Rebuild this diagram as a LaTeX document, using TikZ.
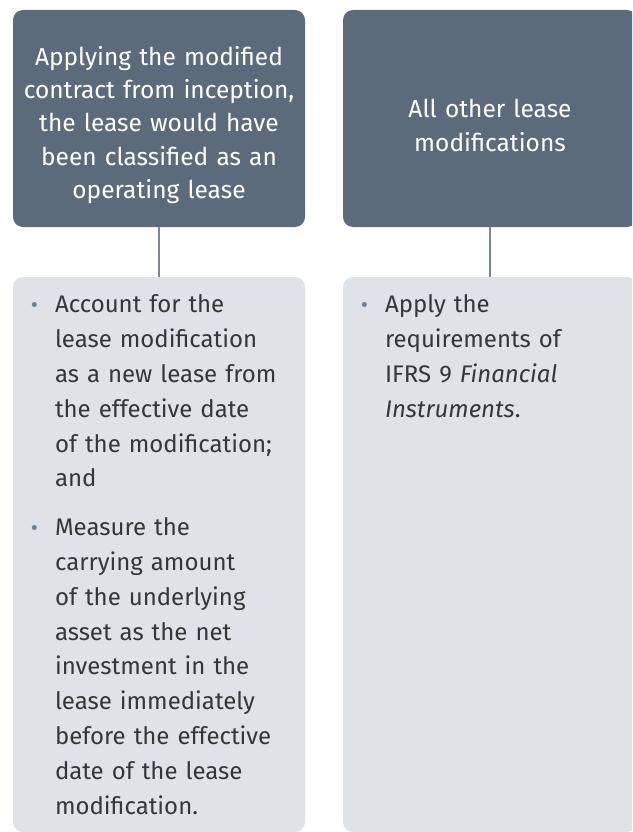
\documentclass[tikz,border=0pt]{standalone}
\usepackage{fontspec}
\setmainfont{Fira Sans}
\definecolor{headblue}{HTML}{5C6B7C}
\definecolor{bodygrey}{HTML}{DFE2E7}
\definecolor{linkgrey}{HTML}{7A8896}
\definecolor{textgrey}{HTML}{363636}
\definecolor{bulletgrey}{HTML}{6A7F94}
\newcommand{\leaseitem}[1]{\noindent\llap{\raisebox{0pt}{\color{bulletgrey}\fontsize{22}{22}\selectfont\textbullet}\hspace{17pt}}\strut#1\par}
\newcommand{\headpush}{\rule{0pt}{32pt}}
\tikzset{
  headbox/.style={fill=headblue,rounded corners=10pt,inner sep=0pt,text=white,align=center,
    font=\fontsize{24.5}{33.3}\selectfont},
  bodybox/.style={fill=bodygrey,rounded corners=10pt,inner sep=0pt},
  bodytext/.style={anchor=north west,inner sep=0pt,text=textgrey,align=left,text width=250pt,
    font=\fontsize{24}{34.8}\selectfont},
  linkline/.style={draw=linkgrey,line width=1.5pt}
}
\begin{document}
\begin{tikzpicture}[x=1pt,y=-1pt]
  \clip (0,0) rectangle (632,832);
  \useasboundingbox (0,0) rectangle (632,832);
  % headings
  \node[headbox,minimum width=292pt,minimum height=217pt,text width=280pt] (opLease) at (159,118.5)
    {\headpush Applying the modified\\contract from inception,\\the lease would have\\been classified as an\\operating lease};
  \node[headbox,minimum width=294pt,minimum height=217pt,text width=280pt] (otherMod) at (490,118.5)
    {\headpush All other lease\\modifications};
  % bodies
  \node[bodybox,minimum width=292pt,minimum height=555pt] (opBody) at (159,554.5) {};
  \node[bodybox,minimum width=294pt,minimum height=555pt] (otherBody) at (490,554.5) {};
  \draw[linkline] (opLease.south) -- (opBody.north);
  \draw[linkline] (otherMod.south) -- (otherBody.north);
  \node[bodytext] (opText) at ([xshift=42pt,yshift=-11.6pt]opBody.north west) {%
    \leaseitem{Account for the\\lease modification\\as a new lease from\\the effective date\\of the modification;\\and}
    \vspace{14pt}
    \leaseitem{Measure the\\carrying amount\\of the underlying\\asset as the net\\investment in the\\lease immediately\\before the effective\\date of the lease\\modification.}};
  \node[bodytext] (otherText) at ([xshift=42pt,yshift=-11.6pt]otherBody.north west) {%
    \leaseitem{Apply the\\requirements of\\IFRS 9 \textit{Financial}\\\textit{Instruments}.}};
\end{tikzpicture}
\end{document}
